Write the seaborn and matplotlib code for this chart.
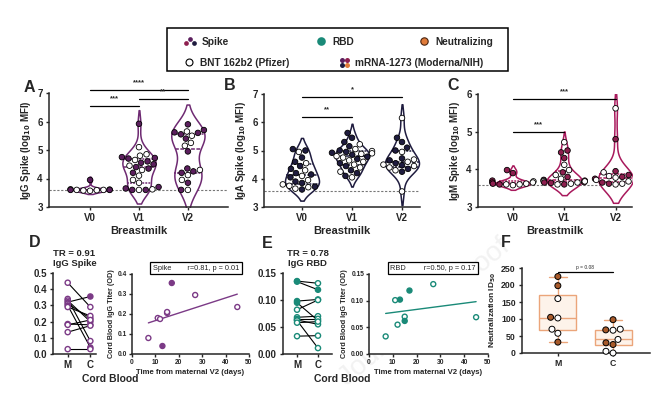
import numpy as np
import pandas as pd
import matplotlib
matplotlib.use("Agg")
import matplotlib.pyplot as plt
import seaborn as sns
from matplotlib.lines import Line2D
from matplotlib.patches import Rectangle
from matplotlib.legend_handler import HandlerBase

# ---- data ----
visits = ["V0", "V1", "V2"]
vaccines = ["Pfizer", "Moderna"]

# A: IgG spike in breastmilk (log10 MFI)
igg_v0 = [3.62, 3.60, 3.58, 3.60, 3.57, 3.60, 3.61, 3.59, 3.60, 3.95]
igg_v0_vax = ["Pfizer", "Pfizer", "Pfizer", "Moderna", "Pfizer", "Pfizer", "Pfizer", "Pfizer", "Moderna", "Moderna"]
igg_v1 = [5.92, 5.10, 4.85, 4.80, 4.75, 4.72, 4.70, 4.65, 4.60, 4.55, 4.50, 4.45, 4.40,
          4.35, 4.30, 4.20, 4.10, 3.95, 3.85, 3.70, 3.65, 3.62, 3.60, 3.60, 3.60]
igg_v1_vax = ["Moderna", "Pfizer", "Pfizer", "Pfizer", "Moderna", "Moderna", "Moderna", "Pfizer", "Moderna",
              "Moderna", "Moderna", "Pfizer", "Moderna", "Moderna", "Pfizer", "Moderna", "Pfizer", "Pfizer",
              "Pfizer", "Moderna", "Moderna", "Pfizer", "Moderna", "Pfizer", "Moderna"]
igg_v2 = [5.90, 5.70, 5.65, 5.62, 5.60, 5.55, 5.50, 5.40, 5.25, 5.15, 4.95, 4.35, 4.30,
          4.25, 4.20, 4.12, 3.95, 3.85, 3.60, 3.60]
igg_v2_vax = ["Moderna", "Moderna", "Pfizer", "Moderna", "Moderna", "Moderna", "Pfizer", "Moderna", "Pfizer",
              "Pfizer", "Moderna", "Moderna", "Pfizer", "Moderna", "Moderna", "Pfizer", "Pfizer", "Moderna",
              "Pfizer", "Moderna"]

# B: IgA spike
iga_v0 = [5.05, 5.00, 4.95, 4.75, 4.60, 4.55, 4.45, 4.35, 4.30, 4.20, 4.15, 4.10, 4.05,
          3.95, 3.90, 3.85, 3.80, 3.75, 3.72, 3.70, 3.65, 3.62]
iga_v0_vax = ["Moderna", "Moderna", "Pfizer", "Moderna", "Moderna", "Pfizer", "Moderna", "Moderna", "Pfizer",
              "Moderna", "Moderna", "Pfizer", "Moderna", "Pfizer", "Moderna", "Moderna", "Pfizer", "Pfizer",
              "Moderna", "Pfizer", "Pfizer", "Moderna"]
iga_v1 = [5.62, 5.45, 5.30, 5.22, 5.15, 5.05, 5.00, 4.98, 4.95, 4.92, 4.90, 4.88, 4.85, 4.80,
          4.78, 4.75, 4.70, 4.65, 4.60, 4.55, 4.50, 4.45, 4.40, 4.30, 4.25, 4.20, 4.10, 4.05]
iga_v1_vax = ["Moderna", "Moderna", "Moderna", "Pfizer", "Moderna", "Pfizer", "Moderna", "Pfizer", "Moderna",
              "Moderna", "Pfizer", "Pfizer", "Moderna", "Pfizer", "Moderna", "Pfizer", "Moderna", "Pfizer",
              "Pfizer", "Moderna", "Pfizer", "Moderna", "Pfizer", "Moderna", "Pfizer", "Moderna", "Moderna",
              "Pfizer"]
iga_v2 = [6.15, 5.45, 5.30, 5.10, 5.00, 4.95, 4.72, 4.68, 4.65, 4.60, 4.55, 4.50, 4.48,
          4.45, 4.40, 4.35, 4.30, 4.25, 3.55]
iga_v2_vax = ["Pfizer", "Moderna", "Moderna", "Moderna", "Moderna", "Pfizer", "Moderna", "Pfizer", "Moderna",
              "Pfizer", "Moderna", "Pfizer", "Moderna", "Pfizer", "Pfizer", "Moderna", "Pfizer", "Moderna",
              "Pfizer"]

# C: IgM spike
igm_v0 = [3.98, 3.90, 3.70, 3.68, 3.65, 3.62, 3.60, 3.60, 3.58, 3.60, 3.62, 3.65]
igm_v0_vax = ["Moderna", "Moderna", "Moderna", "Pfizer", "Moderna", "Pfizer", "Pfizer", "Moderna", "Pfizer",
              "Pfizer", "Moderna", "Pfizer"]
igm_v1 = [4.72, 4.50, 4.45, 4.30, 4.12, 3.98, 3.92, 3.85, 3.80, 3.75, 3.72, 3.70, 3.70,
          3.68, 3.66, 3.65, 3.64, 3.62, 3.60, 3.60, 3.65, 3.68]
igm_v1_vax = ["Pfizer", "Moderna", "Moderna", "Moderna", "Pfizer", "Pfizer", "Moderna", "Pfizer", "Moderna",
              "Pfizer", "Moderna", "Pfizer", "Moderna", "Pfizer", "Moderna", "Pfizer", "Moderna", "Pfizer",
              "Moderna", "Pfizer", "Moderna", "Pfizer"]
igm_v2 = [5.62, 4.80, 3.95, 3.92, 3.85, 3.82, 3.80, 3.78, 3.75, 3.72, 3.70, 3.68, 3.65, 3.62, 3.60, 3.62]
igm_v2_vax = ["Pfizer", "Moderna", "Moderna", "Pfizer", "Moderna", "Pfizer", "Moderna", "Pfizer", "Moderna",
              "Pfizer", "Moderna", "Pfizer", "Moderna", "Moderna", "Pfizer", "Pfizer"]

# D: IgG spike, maternal vs cord blood (paired)
d_mother = [0.44, 0.34, 0.33, 0.32, 0.31, 0.30, 0.29, 0.185, 0.18, 0.135, 0.03]
d_cord = [0.29, 0.08, 0.20, 0.355, 0.22, 0.04, 0.235, 0.18, 0.21, 0.175, 0.03]
d_vax = ["Pfizer", "Pfizer", "Pfizer", "Moderna", "Pfizer", "Moderna", "Pfizer", "Pfizer", "Pfizer", "Pfizer", "Pfizer"]
d_days = [7, 11, 12, 13, 15, 15, 17, 27, 45]
d_titer = [0.08, 0.18, 0.175, 0.04, 0.205, 0.21, 0.355, 0.295, 0.235]
d_days_vax = ["Pfizer", "Pfizer", "Pfizer", "Moderna", "Pfizer", "Pfizer", "Moderna", "Pfizer", "Pfizer"]

# E: IgG RBD, maternal vs cord blood (paired)
e_mother = [0.135, 0.134, 0.098, 0.095, 0.082, 0.068, 0.065, 0.063, 0.062, 0.058, 0.033]
e_cord = [0.131, 0.119, 0.101, 0.062, 0.100, 0.070, 0.065, 0.055, 0.011, 0.060, 0.034]
e_vax = ["Pfizer", "Moderna", "Moderna", "Moderna", "Pfizer", "Pfizer", "Pfizer", "Pfizer", "Pfizer", "Pfizer", "Pfizer"]
e_days = [7, 11, 12, 13, 15, 15, 17, 27, 45]
e_titer = [0.033, 0.101, 0.055, 0.102, 0.070, 0.062, 0.119, 0.131, 0.069]
e_days_vax = ["Pfizer", "Pfizer", "Pfizer", "Moderna", "Pfizer", "Moderna", "Moderna", "Pfizer", "Pfizer"]

# F: neutralization ID50
f_groups = ["M", "C"]
f_mother = [225, 198, 160, 105, 103, 70, 58, 32]
f_mother_vax = ["Moderna", "Moderna", "Pfizer", "Moderna", "Pfizer", "Pfizer", "Pfizer", "Moderna"]
f_cord = [98, 70, 68, 67, 40, 30, 25, 5, 0]
f_cord_vax = ["Moderna", "Pfizer", "Moderna", "Pfizer", "Pfizer", "Moderna", "Moderna", "Pfizer", "Pfizer"]

# ---- style ----
PURPLE = "#5c1f5e"
NAVY = "#1f1c3f"
MAROON = "#8e1f4f"
CRIMSON = "#a8195c"
TEAL = "#1a8a78"
ORANGE = "#e07b39"
BROWN = "#a85a2a"

sns.set_theme(style="ticks")
plt.rcParams["font.family"] = ["Liberation Sans", "DejaVu Sans"]
plt.rcParams["font.weight"] = "bold"
plt.rcParams["axes.labelweight"] = "bold"
plt.rcParams["axes.linewidth"] = 1.1
plt.rcParams["xtick.major.width"] = 1.0
plt.rcParams["ytick.major.width"] = 1.0
plt.rcParams["xtick.major.size"] = 2.5
plt.rcParams["ytick.major.size"] = 2.5
plt.rcParams["mathtext.default"] = "bf"

W, H = 670, 397
fig = plt.figure(figsize=(6.7, 3.97), dpi=100)


def px_axes(x0, y0, x1, y1):
    # pixel box (left, top, right, bottom) -> axes
    return fig.add_axes([x0 / W, 1 - y1 / H, (x1 - x0) / W, (y1 - y0) / H])


def long_df(groups, vals, vaxs):
    rows = []
    for g, v, vx in zip(groups, vals, vaxs):
        rows += [{"visit": g, "value": a, "vaccine": b} for a, b in zip(v, vx)]
    return pd.DataFrame(rows)


def violin_panel(ax, df, line_col, dot_col, ylim, yticks, ylabel, xlim, sigs):
    sns.violinplot(data=df, x="visit", y="value", order=visits, color="white", linecolor=line_col,
                   linewidth=1.1, inner="quart", cut=1.6, density_norm="width", width=0.68,
                   saturation=1, inner_kws=dict(linewidth=1.1), ax=ax)
    sns.swarmplot(data=df, x="visit", y="value", order=visits, hue="vaccine", hue_order=vaccines,
                  palette={"Pfizer": "white", "Moderna": dot_col}, size=4.0, edgecolor="black",
                  linewidth=0.6, legend=False, warn_thresh=1, ax=ax)
    ax.axhline(3.58, ls=(0, (2, 1.5)), color="#777777", lw=0.8, zorder=0.5)
    ax.set_ylim(*ylim)
    ax.set_xlim(*xlim)
    ax.set_yticks(yticks)
    ax.set_ylabel(ylabel, fontsize=7, labelpad=3)
    ax.set_xlabel("Breastmilk", fontsize=8, labelpad=2)
    ax.tick_params(labelsize=7, pad=2)
    for a, b, y, lab in sigs:
        i, j = visits.index(a), visits.index(b)
        ax.plot([i, j], [y, y], color="black", lw=0.9, clip_on=False)
        ax.text((i + j) / 2, y + 0.03 * (ylim[1] - ylim[0]), lab, ha="center", va="bottom",
                fontsize=5.5, clip_on=False)
    sns.despine(ax=ax)


# ---- A / B / C ----
axA = px_axes(49, 93, 228, 207)
violin_panel(axA, long_df(visits, [igg_v0, igg_v1, igg_v2], [igg_v0_vax, igg_v1_vax, igg_v2_vax]),
             "#6e2a72", PURPLE, (3, 7), [3, 4, 5, 6, 7], "IgG Spike (log$_{10}$ MFI)", (-0.84, 2.82),
             [("V0", "V1", 6.55, "***"), ("V1", "V2", 6.8, "**"), ("V0", "V2", 7.12, "****")])

axB = px_axes(264, 94, 420, 207)
violin_panel(axB, long_df(visits, [iga_v0, iga_v1, iga_v2], [iga_v0_vax, iga_v1_vax, iga_v2_vax]),
             NAVY, NAVY, (3, 7), [3, 4, 5, 6, 7], "IgA Spike (log$_{10}$ MFI)", (-0.76, 2.36),
             [("V0", "V1", 6.2, "**"), ("V0", "V2", 6.9, "*")])

axC = px_axes(478, 94, 632, 207)
violin_panel(axC, long_df(visits, [igm_v0, igm_v1, igm_v2], [igm_v0_vax, igm_v1_vax, igm_v2_vax]),
             CRIMSON, MAROON, (3, 6), [3, 4, 5, 6], "IgM Spike (log$_{10}$ MFI)", (-0.68, 2.32),
             [("V0", "V1", 5.0, "***"), ("V0", "V2", 5.87, "***")])


# ---- D / E paired + regression ----
def paired_panel(ax, m_vals, c_vals, vax, col, ylim, yticks, fmt, xlim, title):
    rows = []
    for k, (m, c, v) in enumerate(zip(m_vals, c_vals, vax)):
        rows.append({"pair": k, "pos": 0, "value": m, "vaccine": v})
        rows.append({"pair": k, "pos": 1, "value": c, "vaccine": v})
    df = pd.DataFrame(rows)
    sns.lineplot(data=df, x="pos", y="value", units="pair", estimator=None, color="black",
                 lw=0.8, legend=False, ax=ax)
    sns.scatterplot(data=df, x="pos", y="value", hue="vaccine", hue_order=vaccines,
                    palette={"Pfizer": "white", "Moderna": col}, edgecolor=col, linewidth=1.0,
                    s=14, legend=False, zorder=3, clip_on=False, ax=ax)
    ax.set_xlim(*xlim)
    ax.set_ylim(*ylim)
    ax.set_xticks([0, 1], ["M", "C"])
    ax.set_yticks(yticks, [fmt.format(t) for t in yticks])
    ax.set_xlabel("")
    ax.set_ylabel("")
    ax.tick_params(labelsize=7, pad=2)
    ax.set_title(title, fontsize=6.8, fontweight="bold", linespacing=1.15, pad=5)
    sns.despine(ax=ax)


def reg_panel(ax, days, titer, vax, col, ylim, yticks, fmt, box_text):
    sns.regplot(x=days, y=titer, ci=None, scatter=False, color=col, line_kws=dict(lw=1.0), ax=ax)
    sns.scatterplot(x=days, y=titer, hue=vax, hue_order=vaccines,
                    palette={"Pfizer": "white", "Moderna": col}, edgecolor=col, linewidth=1.0,
                    s=13, legend=False, zorder=3, ax=ax)
    ax.set_xlim(0, 50)
    ax.set_ylim(*ylim)
    ax.set_xticks([0, 10, 20, 30, 40, 50])
    ax.set_yticks(yticks, [fmt.format(t) for t in yticks])
    ax.tick_params(labelsize=4.8, pad=1.5, length=2)
    ax.set_xlabel("Time from maternal V2 (days)", fontsize=5.6, labelpad=2)
    ax.set_ylabel("Cord Blood IgG Titer (OD)", fontsize=5.2, labelpad=2)
    ax.text(0.18, 1.075, box_text, transform=ax.transAxes, fontsize=5.3, fontweight="normal",
            va="center", ha="left",
            bbox=dict(boxstyle="square,pad=0.35", fc="white", ec="black", lw=0.9))
    sns.despine(ax=ax)


axD1 = px_axes(53, 273, 96, 354)
paired_panel(axD1, d_mother, d_cord, d_vax, "#7b3a86", (0, 0.5), [0, 0.1, 0.2, 0.3, 0.4, 0.5],
             "{:.1f}", (-0.65, 1.25), "TR = 0.91\nIgG Spike")
axD2 = px_axes(132, 274, 249, 354)
reg_panel(axD2, d_days, d_titer, d_days_vax, "#7b3a86", (0, 0.4), [0, 0.1, 0.2, 0.3, 0.4],
          "{:.1f}", "Spike        r=0.81, p = 0.01")

axE1 = px_axes(283, 273, 332, 354)
paired_panel(axE1, e_mother, e_cord, e_vax, TEAL, (0, 0.15), [0, 0.05, 0.10, 0.15],
             "{:.2f}", (-0.67, 1.67), "TR = 0.78\nIgG RBD")
axE2 = px_axes(369, 274, 488, 354)
reg_panel(axE2, e_days, e_titer, e_days_vax, TEAL, (0, 0.15), [0, 0.05, 0.10, 0.15],
          "{:.2f}", "RBD         r=0.50, p = 0.17")

fig.text(110 / W, 1 - 379 / H, "Cord Blood", fontsize=7.5, ha="center", va="center")
fig.text(342 / W, 1 - 379 / H, "Cord Blood", fontsize=7.5, ha="center", va="center")

# ---- F ----
axF = px_axes(522, 268, 650, 353)
f_df = pd.DataFrame({"group": ["M"] * len(f_mother) + ["C"] * len(f_cord),
                     "value": f_mother + f_cord,
                     "vaccine": f_mother_vax + f_cord_vax})
sns.boxplot(data=f_df, x="group", y="value", order=f_groups, whis=(0, 100), width=0.67,
            color="#fdf3ea", linecolor="#eba57a", linewidth=1.0, saturation=1, ax=axF)
sns.swarmplot(data=f_df, x="group", y="value", order=f_groups, hue="vaccine", hue_order=vaccines,
              palette={"Pfizer": "white", "Moderna": BROWN}, size=4.3, edgecolor="black",
              linewidth=0.7, legend=False, clip_on=False, ax=axF)
axF.set_xlim(-0.65, 1.67)
axF.set_ylim(0, 250)
axF.set_yticks([0, 50, 100, 150, 200, 250])
axF.set_xlabel("")
axF.set_ylabel("Neutralization ID$_{50}$", fontsize=6, labelpad=2)
axF.tick_params(labelsize=6.3, pad=2)
axF.plot([0, 1], [238, 238], color="black", lw=0.9, clip_on=False)
axF.text(0.5, 243, "p = 0.08", ha="center", va="bottom", fontsize=3.5, fontweight="normal")
sns.despine(ax=axF)

# ---- panel letters ----
for lab, x, y in [("A", 29, 87), ("B", 230, 86), ("C", 453, 86),
                  ("D", 35, 243), ("E", 267, 244), ("F", 506, 243)]:
    fig.text(x / W, 1 - y / H, lab, fontsize=11.5, fontweight="bold", ha="center", va="center")


# ---- top legend (frame + one small legend per entry) ----
class ClusterHandler(HandlerBase):
    def __init__(self, offsets, colors, size, edge="none", face=None):
        super().__init__()
        self.offsets, self.colors, self.size = offsets, colors, size
        self.edge, self.face = edge, face

    def create_artists(self, legend, orig_handle, xdescent, ydescent, width, height, fontsize, trans):
        arts = []
        for (dx, dy), c in zip(self.offsets, self.colors):
            arts.append(Line2D([dx * width - xdescent], [dy * height - ydescent], marker="o",
                               linestyle="none", markersize=self.size,
                               markerfacecolor=self.face or c, markeredgecolor=self.edge if self.edge != "none" else c,
                               markeredgewidth=0.8 if self.edge != "none" else 0, transform=trans))
        return arts


legend_entries = [
    ("Spike", 183, 42, ClusterHandler([(0.2, 0.25), (0.5, 0.85), (0.82, 0.3)], [MAROON, PURPLE, NAVY], 3.4)),
    ("RBD", 314, 42, ClusterHandler([(0.5, 0.5)], [TEAL], 6.2)),
    ("Neutralizing", 417, 42, ClusterHandler([(0.5, 0.5)], [ORANGE], 5.3, edge="#4a2410")),
    ("BNT 162b2 (Pfizer)", 182, 63, ClusterHandler([(0.5, 0.5)], ["black"], 5.0, edge="black", face="white")),
    ("mRNA-1273 (Moderna/NIH)", 337, 63, ClusterHandler([(0.35, 0.9), (0.75, 0.9), (0.35, 0.1), (0.75, 0.1)],
                                                        [PURPLE, MAROON, NAVY, ORANGE], 3.6)),
]
for text, x, y, handler in legend_entries:
    dummy = Line2D([], [])
    lg = fig.legend([dummy], [text], handler_map={dummy: handler}, loc="center left",
                    bbox_to_anchor=(x / W, 1 - y / H), frameon=False, fontsize=7.3,
                    borderpad=0, borderaxespad=0, handlelength=1.35, handletextpad=0.45)
fig.add_artist(Rectangle((167 / W, 1 - 71 / H), (508 - 167) / W, (71 - 28) / H, transform=fig.transFigure,
                         fill=False, edgecolor="black", lw=1.1))

# faint watermark
fig.text(425 / W, 1 - 312 / H, "Journal Pre-proof", fontsize=20, color="#f2f2f2", rotation=40,
         ha="center", va="center", fontweight="normal", zorder=-1)

fig.savefig("out.png", dpi=100)
